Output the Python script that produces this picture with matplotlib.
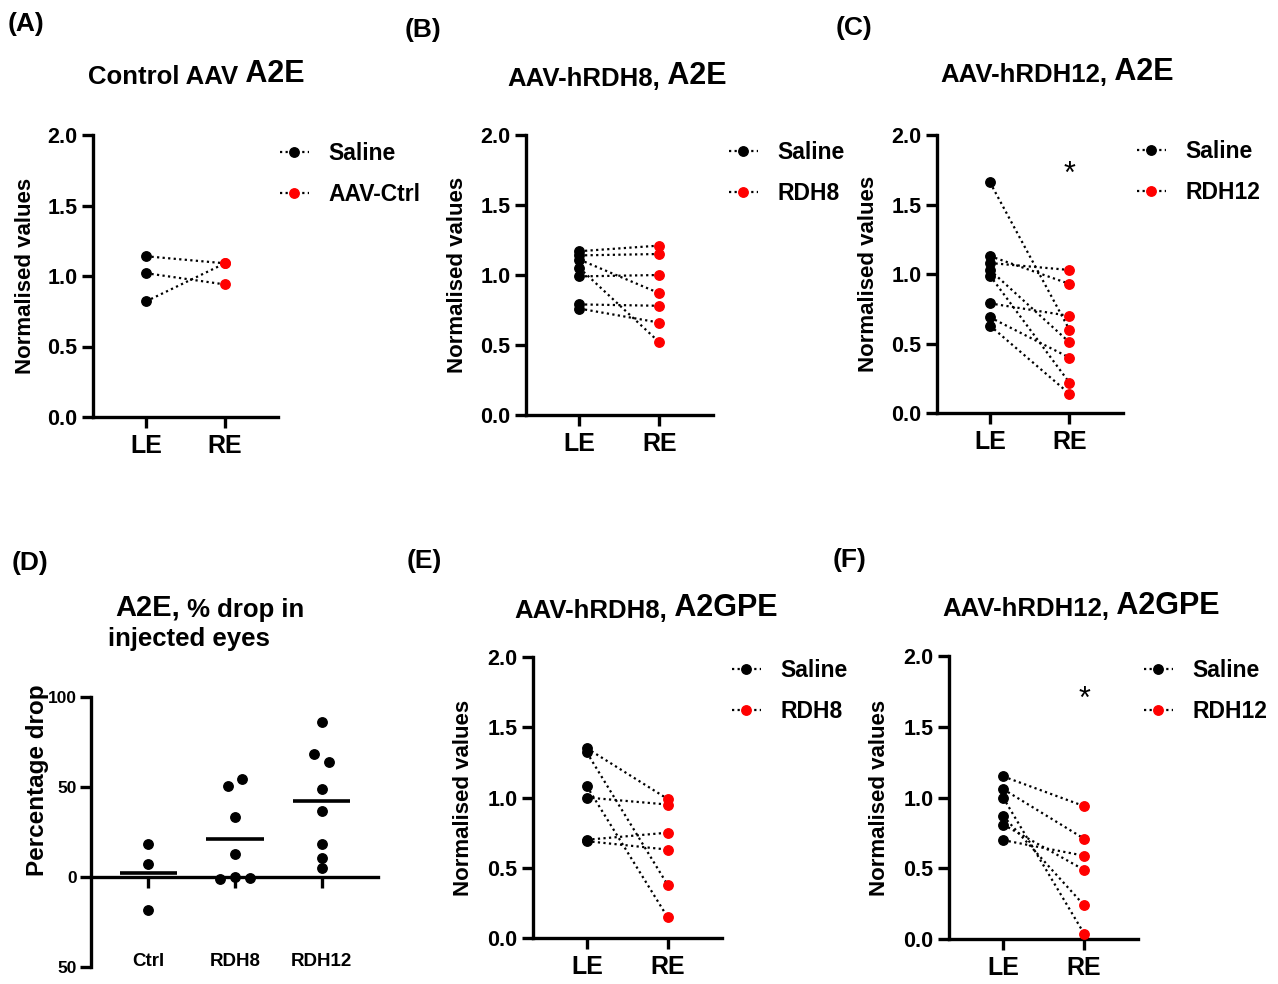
import numpy as np
import matplotlib
matplotlib.use('Agg')
import matplotlib.pyplot as plt
from matplotlib.lines import Line2D
import matplotlib.transforms as mtransforms

plt.rcParams['font.family'] = ['Liberation Sans', 'DejaVu Sans']
plt.rcParams['font.weight'] = 'bold'
plt.rcParams['axes.labelweight'] = 'bold'

W, H = 1278, 984

# ---- data ----
sides = ['LE', 'RE']

a_le = [1.14, 1.02, 0.82]
a_re = [1.09, 0.94, 1.09]

b_le = [1.17, 1.14, 1.11, 1.05, 0.99, 0.79, 0.76]
b_re = [1.21, 1.15, 0.87, 0.52, 1.00, 0.78, 0.66]

c_le = [1.66, 1.13, 1.08, 1.03, 0.99, 0.79, 0.69, 0.63]
c_re = [0.60, 0.93, 1.03, 0.51, 0.22, 0.70, 0.40, 0.14]

e_le = [1.35, 1.32, 1.08, 1.00, 0.70, 0.69]
e_re = [0.99, 0.38, 0.15, 0.95, 0.75, 0.63]

f_le = [1.15, 1.06, 1.00, 0.87, 0.81, 0.70]
f_re = [0.94, 0.71, 0.04, 0.24, 0.49, 0.59]

d_groups = ['Ctrl', 'RDH8', 'RDH12']
d_ctrl = [18.3, 6.8, -18.7]
d_rdh8 = [-1.1, -0.2, -0.6, 12.6, 32.9, 50.3, 54.2]
d_rdh12 = [86.1, 67.9, 63.9, 48.9, 36.4, 17.9, 10.6, 5.0]
d_yticks = [-50, 0, 50, 100]
d_yticklabels = ['50', '0', '50', '100']

norm_yticks = [0.0, 0.5, 1.0, 1.5, 2.0]

DOT = (0, (1, 1.5))

fig = plt.figure(figsize=(W / 100, H / 100), dpi=100)


def add_ax(left, top, right, bottom):
    return fig.add_axes([left / W, 1 - bottom / H, (right - left) / W, (bottom - top) / H])


def fig_text(x, y, s, **kw):
    return fig.text(x / W, 1 - y / H, s, **kw)


def chain_text(prev, s, size):
    # put text s right after the text artist prev, same baseline (roughly)
    return fig.add_artist(matplotlib.text.Annotation(
        s, xy=(1, 0), xycoords=prev, xytext=(0, 0), textcoords='offset points',
        fontsize=size, fontweight='bold', ha='left', va='bottom'))


def title2(x, y, small, big):
    t = fig_text(x, y, small, fontsize=18.5, ha='left', va='baseline')
    chain_text(t, ' ' + big, 22)


def paired_panel(ax, le, re, star=None):
    for y0, y1 in zip(le, re):
        ax.plot([0, 1], [y0, y1], color='black', lw=1.6, ls=DOT, zorder=2)
    ax.plot(np.zeros(len(le)), le, 'o', color='black', ms=6.8, zorder=3)
    ax.plot(np.ones(len(re)), re, 'o', color='#ff0000', ms=6.8, zorder=3)
    ax.set_xlim(-0.67, 1.67)
    ax.set_ylim(0, 2)
    for s in ['top', 'right']:
        ax.spines[s].set_visible(False)
    for s in ['left', 'bottom']:
        ax.spines[s].set_linewidth(2.4)
    ax.tick_params(axis='both', width=2.4, length=8)
    ax.tick_params(axis='x', pad=4)
    ax.tick_params(axis='y', pad=3)
    ax.set_xticks([0, 1])
    ax.set_xticklabels(sides, fontsize=18, fontweight='bold')
    ax.set_yticks(norm_yticks)
    ax.set_yticklabels([f'{v:.1f}' for v in norm_yticks], fontsize=15.5, fontweight='bold')
    ax.set_ylabel('Normalised values', fontsize=16)
    ax.yaxis.set_label_coords(-0.31, 0.5)
    if star is not None:
        ax.annotate('*', xy=(1, star), xytext=(0, -7), textcoords='offset points',
                    fontsize=22, fontweight='normal', ha='center', va='center')
    return ax


def legend_for(ax, x, y, label2):
    h1 = Line2D([], [], color='black', ls=DOT, lw=1.6, marker='o', ms=6.8)
    h2 = Line2D([], [], color='black', ls=DOT, lw=1.6, marker='o', ms=6.8,
                markerfacecolor='#ff0000', markeredgecolor='#ff0000')
    ax.legend([h1, h2], ['Saline', label2], loc='center left',
              bbox_to_anchor=(x / W, 1 - y / H), bbox_transform=fig.transFigure,
              frameon=False, fontsize=16.5, handlelength=1.25, handletextpad=0.85,
              labelspacing=0.75, borderpad=0, borderaxespad=0, numpoints=1)


# ---- panel A ----
axA = add_ax(93, 135, 278, 417)
paired_panel(axA, a_le, a_re)
legend_for(axA, 280, 174, 'AAV-Ctrl')
title2(88, 84, 'Control AAV', 'A2E')

# ---- panel B ----
axB = add_ax(526, 135, 712.7, 415)
paired_panel(axB, b_le, b_re)
legend_for(axB, 729, 173, 'RDH8')
title2(507, 86, 'AAV-hRDH8,', 'A2E')

# ---- panel C ----
axC = add_ax(936.7, 135, 1122.7, 413.3)
paired_panel(axC, c_le, c_re, star=1.78)
legend_for(axC, 1137, 172, 'RDH12')
title2(940, 82, 'AAV-hRDH12,', 'A2E')

# ---- panel E ----
axE = add_ax(532.7, 656.7, 721.7, 938.3)
paired_panel(axE, e_le, e_re)
legend_for(axE, 732, 691, 'RDH8')
title2(514, 618, 'AAV-hRDH8,', 'A2GPE')

# ---- panel F ----
axF = add_ax(949, 656, 1138.3, 939.3)
paired_panel(axF, f_le, f_re, star=1.76)
legend_for(axF, 1144, 691, 'RDH12')
title2(942, 616, 'AAV-hRDH12,', 'A2GPE')


# ---- panel D: % drop scatter ----
def swarm_offsets(vals, thr=4.4, step=0.17):
    groups = []
    for i, v in enumerate(vals):
        for g in groups:
            if any(abs(v - vals[j]) < thr for j in g):
                g.append(i)
                break
        else:
            groups.append([i])
    off = np.zeros(len(vals))
    for g in groups:
        n = len(g)
        for k, j in enumerate(g):
            off[j] = (k - (n - 1) / 2) * step
    return off


axD = add_ax(91, 696.7, 378, 966.7)
for i, vals in enumerate([d_ctrl, d_rdh8, d_rdh12]):
    xs = i + swarm_offsets(vals)
    axD.plot(xs, vals, 'o', color='black', ms=6.8, zorder=3)
    m = np.mean(vals)
    axD.plot([i - 0.33, i + 0.33], [m, m], color='black', lw=2.6, solid_capstyle='butt', zorder=3)
axD.set_xlim(-0.66, 2.65)
axD.set_ylim(-50, 100)
axD.spines['top'].set_visible(False)
axD.spines['right'].set_visible(False)
axD.spines['left'].set_linewidth(2.4)
axD.spines['bottom'].set_linewidth(2.4)
axD.spines['bottom'].set_position(('data', 0))
axD.tick_params(axis='both', width=2.4, length=8)
axD.tick_params(axis='y', pad=2)
axD.set_yticks(d_yticks)
axD.set_yticklabels(d_yticklabels, fontsize=12.5, fontweight='bold')
axD.set_xticks([0, 1, 2])
axD.set_xticklabels([])
trans = mtransforms.blended_transform_factory(axD.transData, axD.transAxes)
for i, g in enumerate(d_groups):
    axD.text(i, 0.02, g, transform=trans, ha='center', va='center', fontsize=13.5,
             fontweight='bold')
axD.set_ylabel('Percentage drop', fontsize=17.5)
axD.yaxis.set_label_coords(-0.145, 0.69)
tD = fig_text(115, 616, 'A2E,', fontsize=21, ha='left', va='baseline')
chain_text(tD, ' % drop in', 18.5)
fig_text(108, 646, 'injected eyes', fontsize=18.5, ha='left', va='baseline')

# ---- panel letters ----
for lab, x, y in [('(A)', 8, 31), ('(B)', 405, 37), ('(C)', 836, 35),
                  ('(D)', 12, 570), ('(E)', 407, 568), ('(F)', 833, 567)]:
    fig_text(x, y, lab, fontsize=19, ha='left', va='baseline')

fig.savefig('out.png', dpi=100)
